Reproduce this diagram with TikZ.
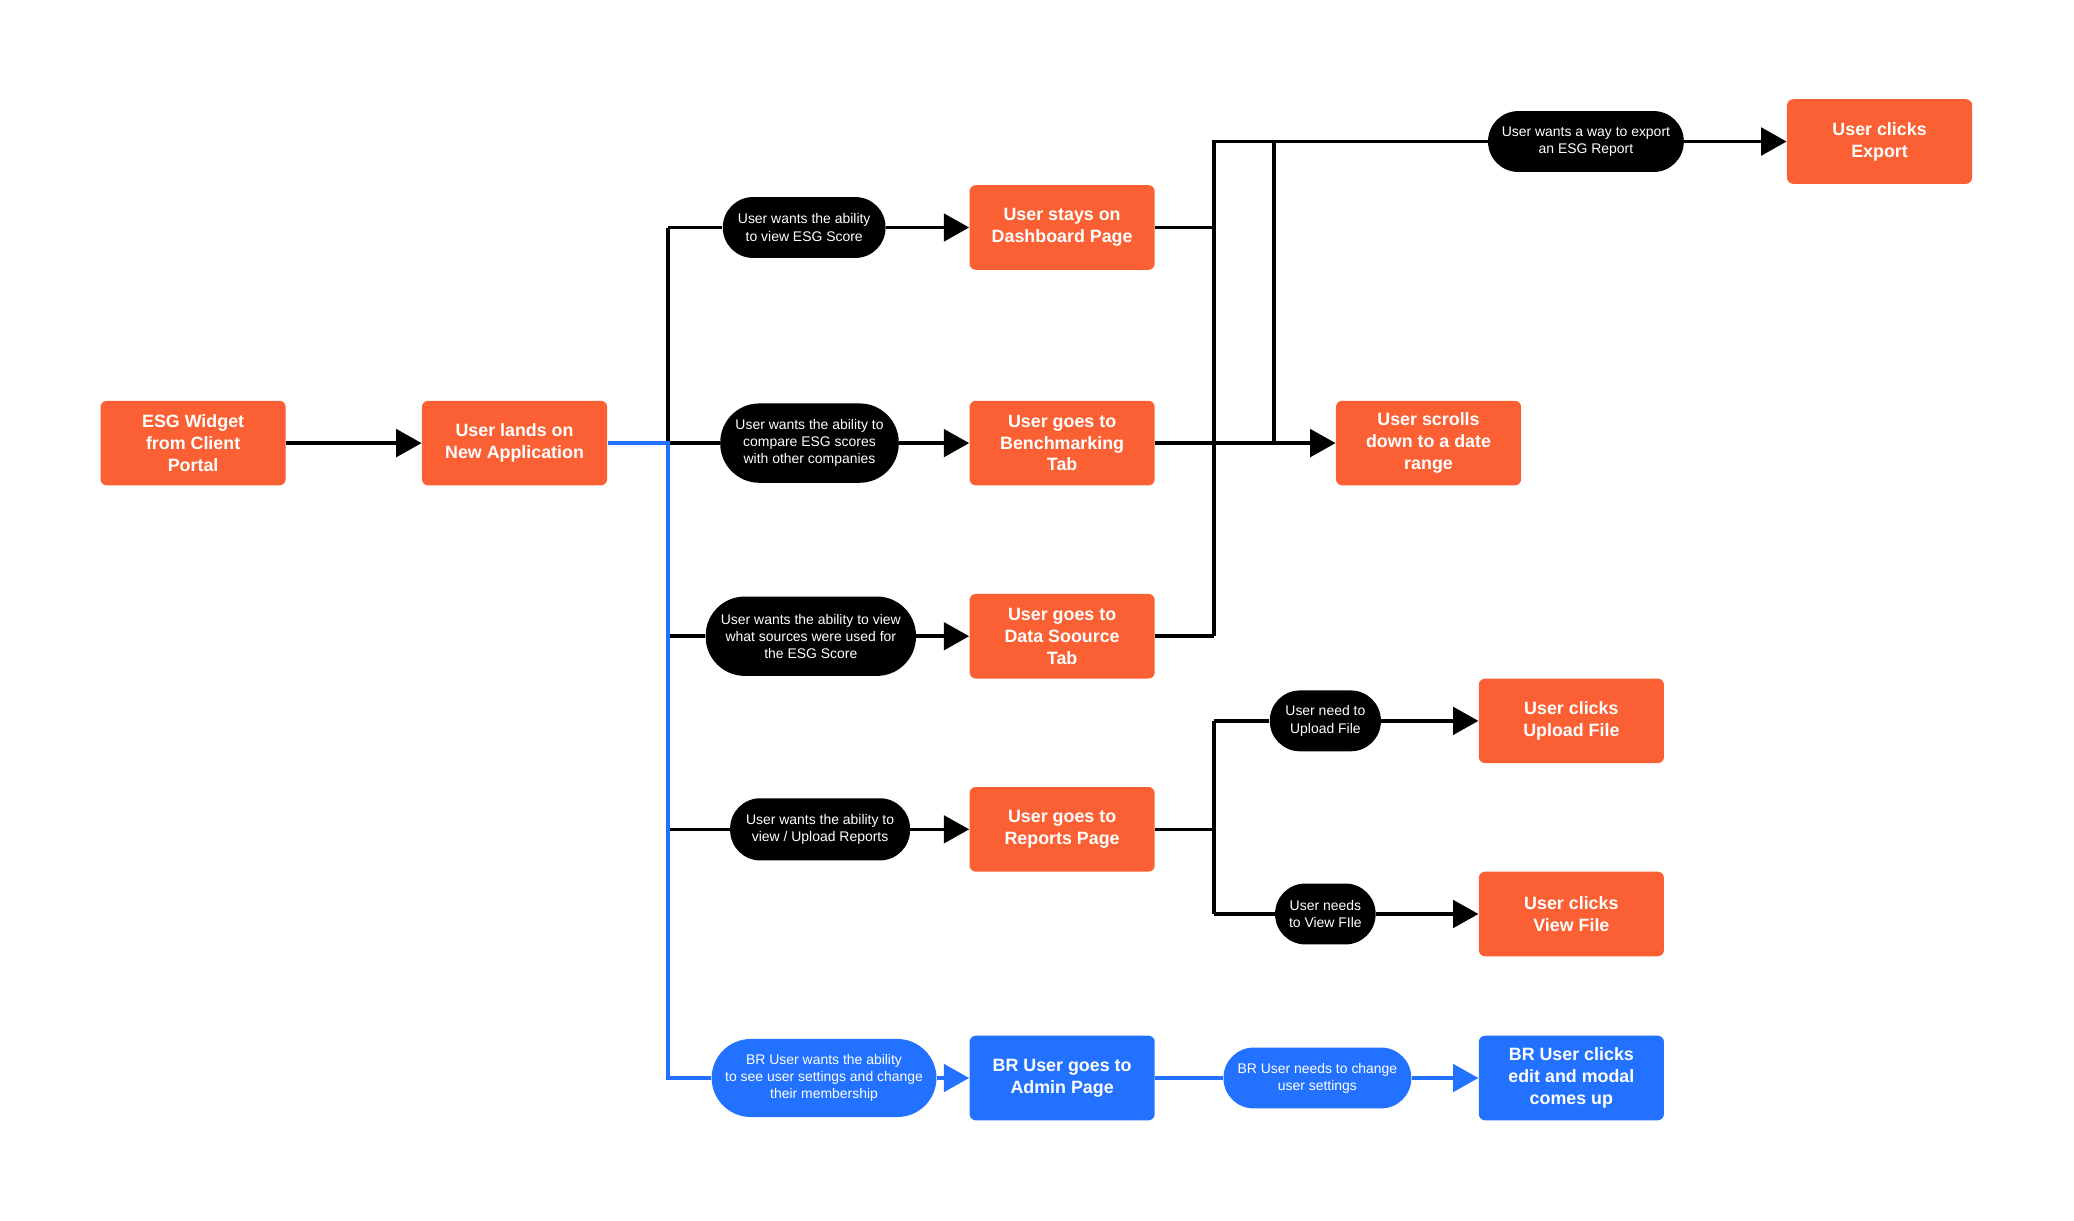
\documentclass[tikz,border=0pt]{standalone}
\usepackage{fontspec}
\setmainfont{Liberation Sans}
\usetikzlibrary{arrows.meta}
\definecolor{esgorange}{HTML}{FA6033}
\definecolor{esgblue}{HTML}{2271FF}
\tikzset{
    step box/.style = {
        rectangle, rounded corners=0.12cm, fill=esgorange, draw=none,
        minimum width=3.5cm, minimum height=1.6cm, align=center,
        text=white, font=\fontsize{9.6}{11.7}\selectfont\bfseries
    },
    admin box/.style = {step box, fill=esgblue},
    ask/.style = {
        rectangle, rounded corners=0.57cm, fill=black, draw=none, align=center,
        minimum height=1.15cm, inner sep=1pt, text=white,
        font=\fontsize{7.5}{9.2}\selectfont
    },
    tall ask/.style = {ask, minimum height=1.5cm, rounded corners=0.74cm},
    admin ask/.style = {ask, fill=esgblue},
    wire/.style = {line width=1.9pt, black},
    bluewire/.style = {line width=1.9pt, esgblue},
    >={Triangle[length=0.48cm,width=0.52cm]}
}

\begin{document}
\begin{tikzpicture}
    \useasboundingbox (0,0) rectangle (39.2,-23.075);

    \node[step box] (Wid) at (3.65,-8.375) {ESG Widget\\from Client\\Portal};
    \node[step box] (Land) at (9.725,-8.375) {User lands on\\New Application};

    \node[ask, minimum width=3.075cm] (qDash) at (15.2,-4.3) {User wants the ability\\to view ESG Score};
    \node[step box] (Dash) at (20.075,-4.3) {User stays on\\Dashboard Page};

    \node[tall ask, minimum width=3.375cm] (qBench) at (15.3,-8.375) {User wants the ability to\\compare ESG scores\\with other companies};
    \node[step box] (Bench) at (20.075,-8.375) {User goes to\\Benchmarking\\Tab};

    \node[tall ask, minimum width=3.975cm] (qData) at (15.325,-12.025) {User wants the ability to view\\what sources were used for\\the ESG Score};
    \node[step box] (Data) at (20.075,-12.025) {User goes to\\Data Soource\\Tab};

    \node[ask, minimum width=3.4cm, minimum height=1.175cm] (qRep) at (15.5,-15.675) {User wants the ability to\\view / Upload Reports};
    \node[step box] (Rep) at (20.075,-15.675) {User goes to\\Reports Page};

    \node[admin ask, tall ask, fill=esgblue, minimum width=4.25cm, minimum height=1.475cm] (qAdm) at (15.575,-20.375) {BR User wants the ability\\to see user settings and change\\their membership};
    \node[admin box] (Adm) at (20.075,-20.375) {BR User goes to\\Admin Page};
    \node[admin ask, minimum width=3.55cm] (qSet) at (24.9,-20.375) {BR User needs to change\\user settings};
    \node[admin box] (Edit) at (29.7,-20.375) {BR User clicks\\edit and modal\\comes up};

    \node[ask, minimum width=3.7cm] (qExp) at (29.975,-2.675) {User wants a way to export\\an ESG Report};
    \node[step box] (Exp) at (35.525,-2.675) {User clicks\\Export};
    \node[step box] (Scr) at (27,-8.375) {User scrolls\\down to a date\\range};

    \node[ask, minimum width=2.1cm] (qUpl) at (25.05,-13.625) {User need to\\Upload File};
    \node[step box] (Upl) at (29.7,-13.625) {User clicks\\Upload File};
    \node[ask, minimum width=1.9cm] (qVf) at (25.05,-17.275) {User needs\\to View FIle};
    \node[step box] (Vf) at (29.7,-17.275) {User clicks\\View File};

    % left fan out
    \coordinate (Fd) at (12.625,-4.3);
    \coordinate (Fb) at (12.625,-8.375);
    \coordinate (Fs) at (12.625,-12.025);
    \coordinate (Fr) at (12.625,-15.675);
    \coordinate (Fa) at (12.625,-20.375);

    \draw [->, wire] (Wid)--(Land);
    \draw [wire] (Fd)--(Fr);
    \draw [wire] (Fd)--(qDash);
    \draw [wire] (Fb)--(qBench);
    \draw [wire] (Fs)--(qData);
    \draw [wire] (Fr)--(qRep);
    \draw [->, wire] (qDash)--(Dash);
    \draw [->, wire] (qBench)--(Bench);
    \draw [->, wire] (qData)--(Data);
    \draw [->, wire] (qRep)--(Rep);

    \draw [bluewire] (Land.east)--(Fb)--(Fa)--(qAdm);
    \draw [->, bluewire] (qAdm)--(Adm);
    \draw [bluewire] (Adm)--(qSet);
    \draw [->, bluewire] (qSet)--(Edit);

    % export / scroll
    \coordinate (Xt) at (22.95,-2.675);
    \coordinate (Xd) at (22.95,-4.3);
    \coordinate (Xs) at (22.95,-12.025);
    \coordinate (Yt) at (24.075,-2.675);
    \coordinate (Yb) at (24.075,-8.375);

    \draw [wire] (Dash)--(Xd);
    \draw [wire] (Data)--(Xs);
    \draw [wire] (Xs)--(Xt)--(qExp);
    \draw [->, wire] (qExp)--(Exp);
    \draw [wire] (Yt)--(Yb);
    \draw [->, wire] (Bench)--(Scr);

    % reports
    \coordinate (Rm) at (22.95,-15.675);
    \coordinate (Ru) at (22.95,-13.625);
    \coordinate (Rv) at (22.95,-17.275);

    \draw [wire] (Rep)--(Rm);
    \draw [wire] (Ru)--(Rv);
    \draw [wire] (Ru)--(qUpl);
    \draw [wire] (Rv)--(qVf);
    \draw [->, wire] (qUpl)--(Upl);
    \draw [->, wire] (qVf)--(Vf);

\end{tikzpicture}
\end{document}
